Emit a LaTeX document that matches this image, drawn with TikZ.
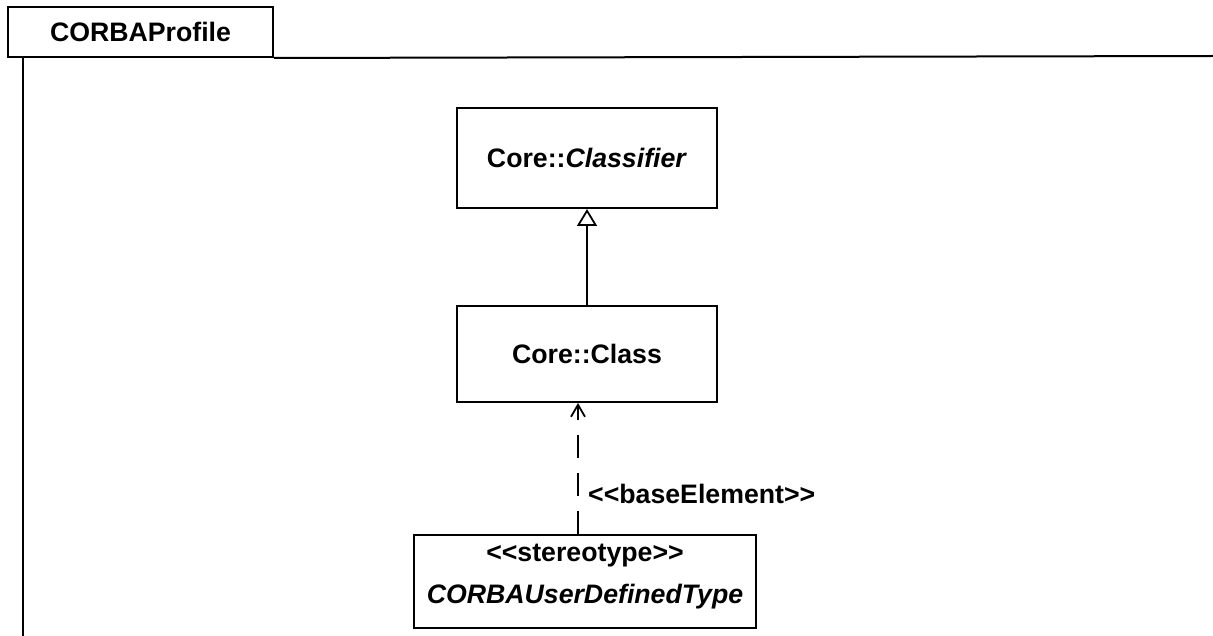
\documentclass[tikz,border=0pt]{standalone}
\usepackage{fontspec}
\setmainfont{Liberation Sans}[Ligatures=TeXOff]
\usetikzlibrary{arrows.meta}
\tikzset{
  umlbox/.style={draw, line width=2pt, minimum width=260pt, minimum height=100pt, inner sep=0pt, align=center, font=\fontsize{26.7}{31}\selectfont\bfseries},
  lbl/.style={font=\fontsize{26.7}{31}\selectfont\bfseries, inner sep=0pt},
  frameline/.style={line width=2pt},
  gen/.style={line width=2pt, -{Triangle[open, width=20pt, length=17pt, line width=1.8pt]}},
  dep/.style={line width=2pt, dash pattern=on 23pt off 15pt, -{Straight Barb[width=14pt, length=12pt, line width=1.8pt]}}
}
\begin{document}
\begin{tikzpicture}[x=1pt,y=-1pt]
\useasboundingbox (0,0) rectangle (1213,636);
% package frame
\node[draw, line width=2pt, minimum width=265pt, minimum height=50pt, inner sep=0pt, lbl, anchor=north west] (tab) at (7,6) {CORBAProfile};
\coordinate (frameEnd) at (1213,56);
\coordinate (leftTop) at (23,56);
\coordinate (leftBot) at (23,636);
\draw[frameline] (tab.south east) -- (frameEnd);
\draw[frameline] (leftTop) -- (leftBot);
% classes
\node[umlbox] (classifier) at (587,158) {Core::\textit{Classifier}};
\node[umlbox, minimum height=96pt] (class) at (587,354) {Core::Class};
\node[umlbox, minimum width=342pt, minimum height=93pt] (user) at (585,581.5) {};
\node[lbl] (st) at (585,556) {<<stereotype>>};
\node[lbl] (nm) at (585,597) {\textit{CORBAUserDefinedType}};
% generalization
\draw[gen] (class.north) -- (classifier.south);
% dependency
\coordinate (dx) at (578,0);
\draw[dep] (user.north -| dx) -- (class.south -| dx);
\node[lbl, anchor=west] (be) at (588,494) {<<baseElement>>};
\end{tikzpicture}
\end{document}
